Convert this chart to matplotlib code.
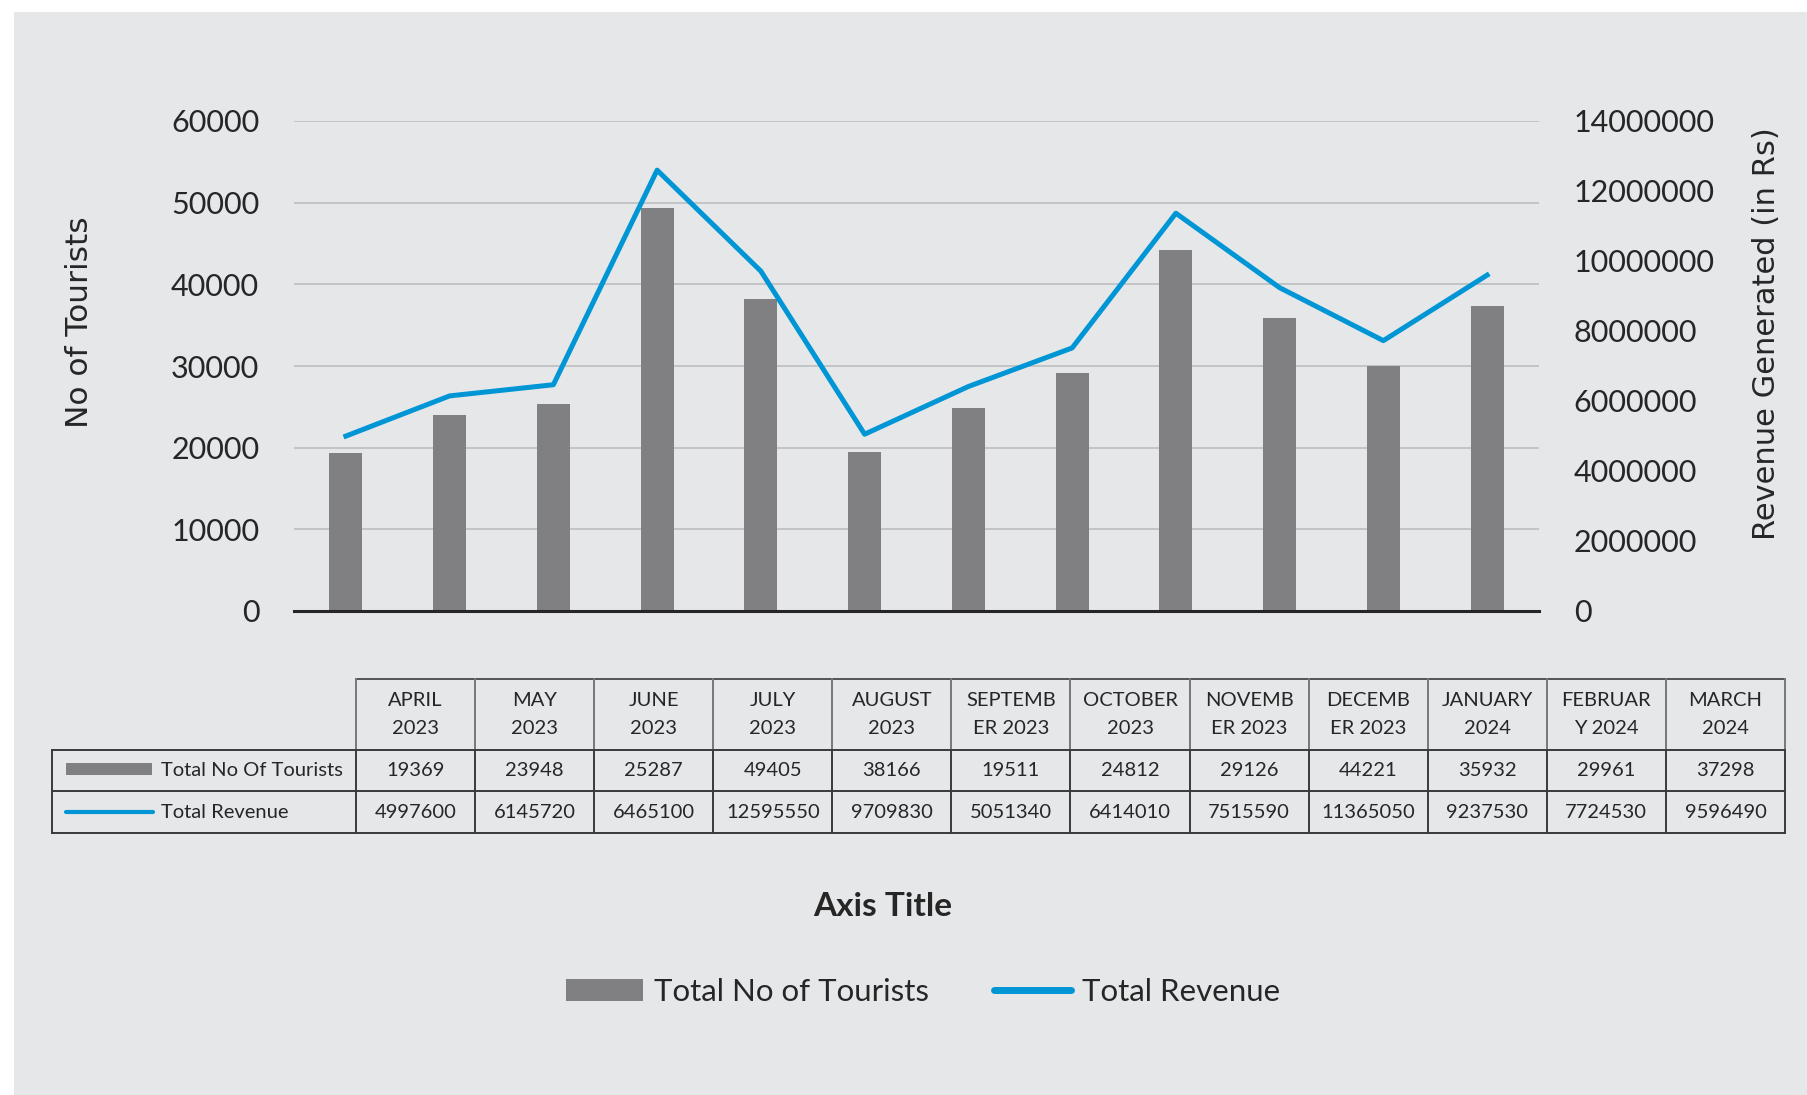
import matplotlib
matplotlib.use("Agg")
import matplotlib.pyplot as plt
from matplotlib.patches import Rectangle, Patch
from matplotlib.lines import Line2D

# ---------------- data ----------------
header_top = ["APRIL", "MAY", "JUNE", "JULY", "AUGUST", "SEPTEMB", "OCTOBER",
              "NOVEMB", "DECEMB", "JANUARY", "FEBRUAR", "MARCH"]
header_bottom = ["2023", "2023", "2023", "2023", "2023", "ER 2023", "2023",
                 "ER 2023", "ER 2023", "2024", "Y 2024", "2024"]
tourists = [19369, 23948, 25287, 49405, 38166, 19511, 24812, 29126, 44221,
            35932, 29961, 37298]
revenue = [4997600, 6145720, 6465100, 12595550, 9709830, 5051340, 6414010,
           7515590, 11365050, 9237530, 7724530, 9596490]
left_ticks = [0, 10000, 20000, 30000, 40000, 50000, 60000]
right_ticks = [0, 2000000, 4000000, 6000000, 8000000, 10000000, 12000000, 14000000]
series_names = ["Total No of Tourists", "Total Revenue"]
table_names = ["Total No Of Tourists", "Total Revenue"]

# ---------------- style ----------------
plt.rcParams['font.family'] = ['Lato', 'DejaVu Sans']
BG = '#E6E7E9'
BAR = '#808083'
BLUE = '#0096D6'
TXT = '#262626'
GRID = '#BDBDBF'

W, H = 1808, 1095
fig = plt.figure(figsize=(W / 100, H / 100), dpi=100, facecolor='white')
fig.patches.append(Rectangle((14 / W, 0), 1, 1 - 12 / H, transform=fig.transFigure,
                             facecolor=BG, edgecolor='none', zorder=-10))

# ---------------- main chart ----------------
l, r, t, b = 294 / W, 1539 / W, 1 - 121 / H, 1 - 611 / H
ax = fig.add_axes([l, b, r - l, t - b])
ax.set_facecolor('none')
x = list(range(len(tourists)))
ax.bar(x, tourists, width=0.32, color=BAR, zorder=2)
ax.set_xlim(-0.5, len(x) - 0.5)
ax.set_ylim(left_ticks[0], left_ticks[-1])
ax.set_yticks(left_ticks)
ax.set_yticklabels([str(v) for v in left_ticks])
ax.set_xticks([])
ax.yaxis.grid(True, color=GRID, lw=1.2)
ax.set_axisbelow(True)
for s in ['top', 'left', 'right']:
    ax.spines[s].set_visible(False)
ax.spines['bottom'].set_color(TXT)
ax.spines['bottom'].set_linewidth(2.2)
ax.spines['bottom'].set_zorder(3)
ax.tick_params(axis='y', length=0, pad=25, labelsize=22, labelcolor=TXT)

ax2 = ax.twinx()
ax2.plot(x, revenue, color=BLUE, lw=3.6, zorder=4)
ax2.set_ylim(right_ticks[0], right_ticks[-1])
ax2.set_yticks(right_ticks)
ax2.set_yticklabels([str(v) for v in right_ticks])
for s in ['top', 'left', 'right', 'bottom']:
    ax2.spines[s].set_visible(False)
ax2.tick_params(axis='y', length=0, pad=25, labelsize=22, labelcolor=TXT)

fig.text(80 / W, 1 - 322 / H, "No of Tourists", rotation=90, ha='center', va='center',
         family='DejaVu Sans', fontsize=22.5, color=TXT)
fig.text(1767 / W, 1 - 334 / H, "Revenue Generated (in Rs)", rotation=90, ha='center',
         va='center', family='DejaVu Sans', fontsize=22, color=TXT)

# ---------------- data table ----------------
tax = fig.add_axes([0, 0, 1, 1])
tax.set_xlim(0, W)
tax.set_ylim(H, 0)
tax.axis('off')
tax.set_facecolor('none')

n = len(tourists)
col_x0, col_w, lab_x0 = 356, (1785 - 356) / n, 52
y0, y1, y2, y3 = 679, 750, 791, 833
x_end = col_x0 + n * col_w
LC = '#3A3A3A'
lw = 1.4
tax.plot([col_x0, x_end], [y0, y0], color='#555555', lw=lw)
for yy in (y1, y2, y3):
    tax.plot([lab_x0, x_end], [yy, yy], color=LC, lw=lw)
tax.plot([lab_x0, lab_x0], [y1, y3], color=LC, lw=lw)
for i in range(n + 1):
    xx = col_x0 + i * col_w
    tax.plot([xx, xx], [y0, y1], color='#777777', lw=lw)
    tax.plot([xx, xx], [y1, y3], color=LC, lw=lw)

TF = 14.5
for i in range(n):
    cx = col_x0 + (i + 0.5) * col_w
    tax.text(cx, 701, header_top[i], ha='center', va='center', fontsize=TF, color=TXT)
    tax.text(cx, 729, header_bottom[i], ha='center', va='center', fontsize=TF, color=TXT)
    tax.text(cx, (y1 + y2) / 2, str(tourists[i]), ha='center', va='center',
             fontsize=TF, color=TXT)
    tax.text(cx, (y2 + y3) / 2, str(revenue[i]), ha='center', va='center',
             fontsize=TF, color=TXT)

tax.add_patch(Rectangle((66, 763), 86, 12, facecolor=BAR, edgecolor='none'))
tax.plot([66, 153], [812, 812], color=BLUE, lw=3, solid_capstyle='round')
tax.text(161, (y1 + y2) / 2, table_names[0], ha='left', va='center', fontsize=TF, color=TXT)
tax.text(161, (y2 + y3) / 2, table_names[1], ha='left', va='center', fontsize=TF, color=TXT)

# ---------------- axis title ----------------
tax.text(883, 906, "Axis Title", ha='center', va='center', fontsize=24,
         fontweight='bold', color=TXT)

# ---------------- legend ----------------
handles = [Patch(facecolor=BAR, edgecolor='none'),
           Line2D([0], [0], color=BLUE, lw=5, solid_capstyle='round')]
fig.legend(handles, series_names, loc='center', bbox_to_anchor=(923 / W, 1 - 992 / H),
           ncol=2, frameon=False, fontsize=22.5, handlelength=2.45, handletextpad=0.35,
           columnspacing=2.1, labelcolor=TXT)

fig.savefig("out.png", dpi=100, facecolor=fig.get_facecolor())
